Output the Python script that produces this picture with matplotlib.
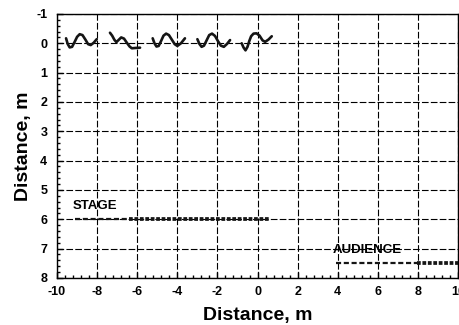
import matplotlib
matplotlib.use('Agg')
import matplotlib.pyplot as plt
from matplotlib.ticker import MultipleLocator

plt.rcParams['font.family'] = ['Liberation Sans', 'DejaVu Sans']
plt.rcParams['font.weight'] = 'bold'
plt.rcParams['axes.unicode_minus'] = False

# sound waves drawn near y = 0
wave1_x = [-9.55, -9.47, -9.37, -9.25, -9.12, -9.00, -8.87, -8.73, -8.58, -8.45, -8.32, -8.17, -8.02]
wave1_y = [-0.17, 0.02, 0.14, 0.12, -0.05, -0.22, -0.31, -0.28, -0.12, 0.03, 0.06, -0.02, -0.14]
wave2_x = [-7.36, -7.25, -7.14, -7.04, -6.92, -6.80, -6.66, -6.52, -6.38, -6.27, -6.10, -5.86]
wave2_y = [-0.36, -0.26, -0.12, -0.04, -0.12, -0.20, -0.16, -0.02, 0.11, 0.17, 0.16, 0.15]
wave3_x = [-5.23, -5.14, -5.04, -4.93, -4.81, -4.69, -4.56, -4.42, -4.27, -4.13, -4.00, -3.82, -3.62]
wave3_y = [-0.17, 0.00, 0.11, 0.09, -0.08, -0.26, -0.33, -0.28, -0.12, 0.03, 0.09, 0.00, -0.17]
wave4_x = [-3.00, -2.90, -2.79, -2.67, -2.54, -2.41, -2.27, -2.12, -1.97, -1.83, -1.68, -1.52, -1.37]
wave4_y = [-0.14, 0.02, 0.12, 0.08, -0.10, -0.28, -0.33, -0.25, -0.07, 0.08, 0.12, 0.02, -0.11]
wave5_x = [-0.79, -0.70, -0.60, -0.50, -0.41, -0.32, -0.20, -0.05, 0.10, 0.25, 0.38, 0.55, 0.71]
wave5_y = [0.00, 0.14, 0.24, 0.12, -0.08, -0.24, -0.33, -0.34, -0.26, -0.10, -0.05, -0.13, -0.24]

# stage and audience rows
stage_y = 6.0
stage_thin_x = [-9.1, -6.4]
stage_thick_x = [-6.4, 0.6]
audience_y = 7.5
audience_thin_x = [3.9, 7.95]
audience_thick_x = [7.95, 10.0]

x_ticks = [-10, -8, -6, -4, -2, 0, 2, 4, 6, 8, 10]
y_ticks = [-1, 0, 1, 2, 3, 4, 5, 6, 7, 8]

fig = plt.figure(figsize=(4.6, 3.25), dpi=100)
ax = fig.add_axes([0.124, 0.145, 0.8717, 0.812])

ax.grid(True, which='major', color='black', linestyle=(0, (6, 2)), linewidth=0.8)
ax.set_axisbelow(True)

for wx, wy in [(wave1_x, wave1_y), (wave2_x, wave2_y), (wave3_x, wave3_y),
               (wave4_x, wave4_y), (wave5_x, wave5_y)]:
    ax.plot(wx, wy, color='#151515', linewidth=1.9, solid_capstyle='round',
            solid_joinstyle='round', zorder=3)

ax.plot(stage_thin_x, [stage_y, stage_y], color='#151515', linewidth=1.6,
        linestyle=(0, (2.3, 1.2)), zorder=3)
ax.plot(stage_thick_x, [stage_y, stage_y], color='#151515', linewidth=2.7,
        linestyle=(0, (1.0, 0.45)), zorder=3)
ax.plot(audience_thin_x, [audience_y, audience_y], color='#151515', linewidth=1.6,
        linestyle=(0, (2.3, 1.2)), zorder=3)
ax.plot(audience_thick_x, [audience_y, audience_y], color='#151515', linewidth=2.7,
        linestyle=(0, (1.0, 0.45)), zorder=3)

ax.text(-9.2, 5.55, 'STAGE', fontsize=9.5, fontweight='bold', ha='left', va='center')
ax.text(3.75, 7.05, 'AUDIENCE', fontsize=9.5, fontweight='bold', ha='left', va='center')

ax.set_xlim(-10, 10)
ax.set_ylim(8, -1)
ax.set_xticks(x_ticks)
ax.set_yticks(y_ticks)
ax.xaxis.set_minor_locator(MultipleLocator(0.4))
ax.yaxis.set_minor_locator(MultipleLocator(0.2))
ax.tick_params(which='both', direction='in', top=False, right=False, width=1, labelsize=9)
ax.tick_params(which='major', length=4.5)
ax.tick_params(which='minor', length=2.5)
ax.tick_params(axis='x', pad=6)
ax.tick_params(axis='y', pad=7)
for lbl in ax.get_xticklabels() + ax.get_yticklabels():
    lbl.set_fontweight('bold')

for sp in ax.spines.values():
    sp.set_linewidth(1.0)

ax.set_xlabel('Distance, m', fontsize=14, fontweight='bold', labelpad=6)
ax.set_ylabel('Distance, m', fontsize=14, fontweight='bold', labelpad=3)

fig.savefig('out.png', dpi=100, facecolor='white')
